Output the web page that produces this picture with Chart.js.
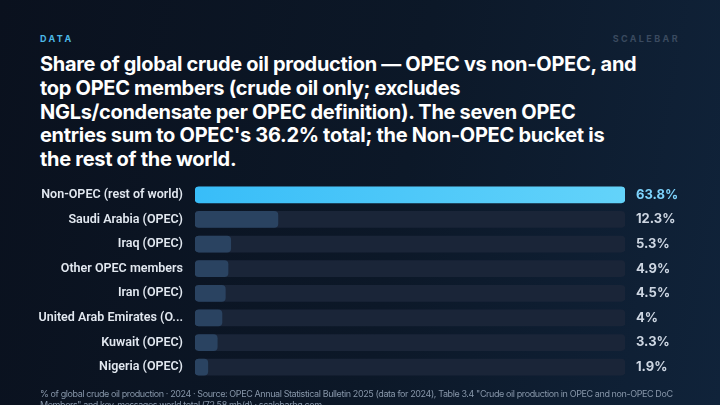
<!DOCTYPE html>
<html>
<head>
<meta charset="utf-8">
<script src="https://cdn.jsdelivr.net/npm/chart.js@4.4.1/dist/chart.umd.min.js"></script>
<style>
  html, body { margin: 0; padding: 0; }
  body {
    width: 720px; height: 405px; overflow: hidden; position: relative;
    background: linear-gradient(100deg, #0a111e 0%, #0c1828 55%, #10233a 100%);
    font-family: Inter, "Noto Sans", sans-serif;
  }
  .kicker {
    position: absolute; top: 33px; left: 40px;
    font-size: 9px; font-weight: 700; letter-spacing: 2.4px; color: #4cb8e6;
  }
  .brand {
    position: absolute; top: 33px; right: 40px;
    font-size: 9px; font-weight: 700; letter-spacing: 2.4px; color: #3a4a5f;
  }
  h1 {
    position: absolute; top: 53px; left: 40px; width: 660px; margin: 0;
    font-size: 20px; font-weight: 700; line-height: 23.8px; letter-spacing: -0.3px;
    color: #ffffff;
  }
  .chart-box { position: absolute; left: 0; top: 163px; width: 720px; height: 236px; }
  .footer {
    position: absolute; top: 388px; left: 40px; width: 660px;
    font-size: 9px; line-height: 11px; letter-spacing: -0.4px; color: #8796a9;
  }
</style>
</head>
<body>
<div class="kicker">DATA</div>
<div class="brand">SCALEBAR</div>
<h1>Share of global crude oil production — OPEC vs non-OPEC, and<br>top OPEC members (crude oil only; excludes<br>NGLs/condensate per OPEC definition). The seven OPEC<br>entries sum to OPEC's 36.2% total; the Non-OPEC bucket is<br>the rest of the world.</h1>
<div class="chart-box"><canvas id="chart"></canvas></div>
<div class="footer">% of global crude oil production · 2024 · Source: OPEC Annual Statistical Bulletin 2025 (data for 2024), Table 3.4 "Crude oil production in OPEC and non-OPEC DoC Members" and key-messages world total (72.58 mb/d) · scalebarhq.com</div>

<script>
// chart data
const categories = [
  'Non-OPEC (rest of world)',
  'Saudi Arabia (OPEC)',
  'Iraq (OPEC)',
  'Other OPEC members',
  'Iran (OPEC)',
  'United Arab Emirates (OPEC)',
  'Kuwait (OPEC)',
  'Nigeria (OPEC)'
];
const shares = [63.8, 12.3, 5.3, 4.9, 4.5, 4, 3.3, 1.9];
const valueLabels = ['63.8%', '12.3%', '5.3%', '4.9%', '4.5%', '4%', '3.3%', '1.9%'];

const xMax = Math.max(...shares);
const track = categories.map(() => xMax);

// truncate long labels like the original
function shorten(label) {
  return label.length > 25 ? label.slice(0, 23) + '...' : label;
}

function barFill(context) {
  const chart = context.chart;
  const area = chart.chartArea;
  if (context.dataIndex !== 0) return '#2a4361';
  if (!area) return '#38bdf8';
  const g = chart.ctx.createLinearGradient(area.left, 0, area.right, 0);
  g.addColorStop(0, '#38bdf8');
  g.addColorStop(1, '#63d3fa');
  return g;
}

// value labels to the right of the track
const valueLabelPlugin = {
  id: 'valueLabels',
  afterDatasetsDraw(chart) {
    const ctx = chart.ctx;
    const yScale = chart.scales.y;
    ctx.save();
    ctx.font = '700 13px Inter, "Noto Sans", sans-serif';
    ctx.textBaseline = 'middle';
    ctx.textAlign = 'left';
    valueLabels.forEach((txt, i) => {
      ctx.fillStyle = i === 0 ? '#7dd3fc' : '#cdd6e2';
      ctx.fillText(txt, chart.chartArea.right + 11, yScale.getPixelForValue(i));
    });
    ctx.restore();
  }
};

const ctx = document.getElementById('chart').getContext('2d');
new Chart(ctx, {
  type: 'bar',
  data: {
    labels: categories,
    datasets: [
      {
        label: 'Share',
        data: shares,
        backgroundColor: barFill,
        borderRadius: 4,
        borderSkipped: false,
        barThickness: 16,
        grouped: false,
        order: 1
      },
      {
        label: 'Track',
        data: track,
        backgroundColor: '#1a2538',
        borderRadius: 4,
        borderSkipped: false,
        barThickness: 16,
        grouped: false,
        order: 2
      }
    ]
  },
  options: {
    indexAxis: 'y',
    responsive: true,
    maintainAspectRatio: false,
    animation: false,
    layout: { padding: { left: 0, right: 95, top: 0, bottom: 0 } },
    plugins: {
      legend: { display: false },
      tooltip: { enabled: false }
    },
    scales: {
      x: {
        min: 0,
        max: xMax,
        display: false
      },
      y: {
        grid: { display: false, drawTicks: false, tickLength: 0 },
        border: { display: false },
        afterFit(scale) { scale.width = 195; },
        ticks: {
          color: '#e2e8f0',
          padding: 12,
          font: { family: 'Roboto, Inter, sans-serif', size: 12.5, weight: '600' },
          callback(value) { return shorten(this.getLabelForValue(value)); }
        }
      }
    }
  },
  plugins: [valueLabelPlugin]
});
</script>
</body>
</html>
